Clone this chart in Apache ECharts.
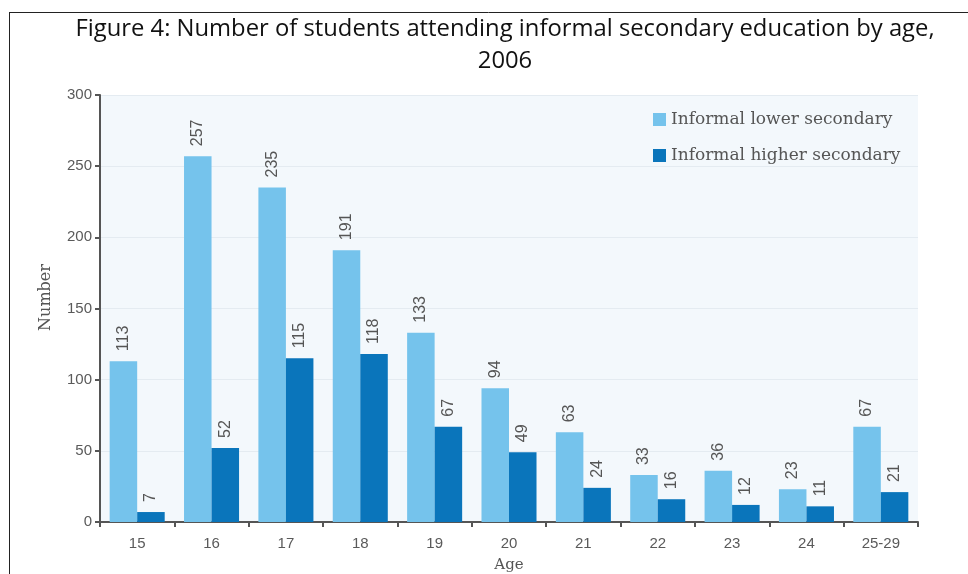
<!DOCTYPE html>
<html>
<head>
<meta charset="utf-8">
<script src="https://cdn.jsdelivr.net/npm/echarts@6/dist/echarts.min.js"></script>
<style>
  html, body { margin: 0; padding: 0; background: #ffffff; }
  #chart { width: 968px; height: 574px; }
</style>
</head>
<body>
<div id="chart"></div>
<script>
// Age groups on the x axis
const ages = ['15', '16', '17', '18', '19', '20', '21', '22', '23', '24', '25-29'];
// Students per age group
const lowerSecondary = [113, 257, 235, 191, 133, 94, 63, 33, 36, 23, 67];
const higherSecondary = [7, 52, 115, 118, 67, 49, 24, 16, 12, 11, 21];
const seriesNames = ['Informal lower secondary', 'Informal higher secondary'];
const titleLines = ['Figure 4: Number of students attending informal secondary education by age,', '2006'];

const chart = echarts.init(document.getElementById('chart'));

const valueLabel = {
  show: true,
  position: 'top',
  rotate: 90,
  align: 'left',
  verticalAlign: 'middle',
  distance: 10,
  color: '#555',
  fontFamily: 'Liberation Sans, Arial, sans-serif',
  fontSize: 16
};

chart.setOption({
  backgroundColor: '#ffffff',
  animation: false,
  title: {
    text: titleLines.join('\n'),
    left: 500,
    textAlign: 'center',
    top: 8,
    textStyle: {
      fontFamily: 'Open Sans, sans-serif',
      fontWeight: 'normal',
      fontSize: 23.8,
      lineHeight: 32,
      color: '#111'
    }
  },
  graphic: [
    { type: 'line', shape: { x1: 9, y1: 12.5, x2: 968, y2: 12.5 }, style: { stroke: '#222', lineWidth: 1 } },
    { type: 'line', shape: { x1: 9.5, y1: 12, x2: 9.5, y2: 574 }, style: { stroke: '#222', lineWidth: 1 } }
  ],
  legend: {
    orient: 'vertical',
    left: 648,
    top: 106,
    itemWidth: 13,
    itemHeight: 13,
    itemGap: 19,
    icon: 'rect',
    textStyle: {
      fontFamily: 'DejaVu Serif, serif',
      fontSize: 17,
      color: '#555'
    },
    data: seriesNames
  },
  grid: {
    left: 100,
    right: 50,
    top: 95,
    bottom: 52,
    outerBoundsMode: 'none',
    containLabel: false,
    show: true,
    backgroundColor: '#f3f8fc',
    borderWidth: 0
  },
  xAxis: {
    type: 'category',
    data: ages,
    name: 'Age',
    nameLocation: 'middle',
    nameGap: 36,
    nameTextStyle: { fontFamily: 'DejaVu Serif, serif', fontSize: 15, color: '#555' },
    axisLine: { lineStyle: { color: '#555', width: 2 } },
    axisTick: { show: true, length: 5, lineStyle: { color: '#555', width: 2 } },
    axisLabel: { color: '#5a5a5a', fontFamily: 'Liberation Sans, Arial, sans-serif', fontSize: 15, margin: 14 }
  },
  yAxis: {
    type: 'value',
    min: 0,
    max: 300,
    interval: 50,
    name: 'Number',
    nameLocation: 'middle',
    nameGap: 46,
    nameTextStyle: { fontFamily: 'DejaVu Serif, serif', fontSize: 16, color: '#555', padding: [0, 0, 0, 22] },
    axisLine: { show: true, lineStyle: { color: '#555', width: 2 } },
    axisTick: { show: true, length: 5, lineStyle: { color: '#555', width: 2 } },
    axisLabel: { color: '#5a5a5a', fontFamily: 'Liberation Sans, Arial, sans-serif', fontSize: 15, margin: 8 },
    splitLine: { lineStyle: { color: '#e4ebf1', width: 1 } }
  },
  series: [
    {
      name: seriesNames[0],
      type: 'bar',
      data: lowerSecondary,
      barGap: '0%',
      barCategoryGap: '26%',
      itemStyle: { color: '#75c3ec' },
      label: valueLabel
    },
    {
      name: seriesNames[1],
      type: 'bar',
      data: higherSecondary,
      itemStyle: { color: '#0a75bb' },
      label: valueLabel
    }
  ]
});
</script>
</body>
</html>
